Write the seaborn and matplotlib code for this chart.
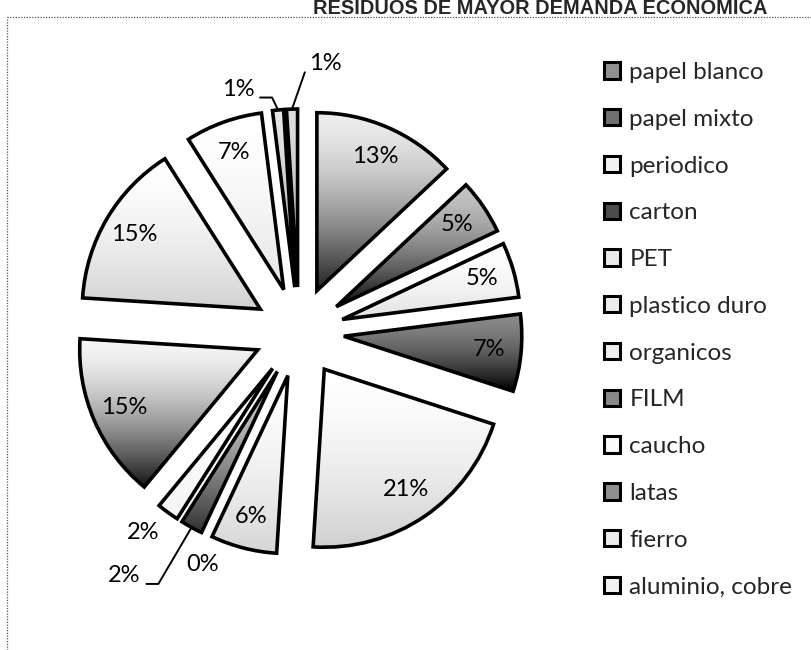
import numpy as np
import matplotlib
matplotlib.use("Agg")
import matplotlib.pyplot as plt
from matplotlib.patches import Patch
from matplotlib.lines import Line2D
from matplotlib.colors import to_rgb
import seaborn as sns

sns.set_theme(style="white")
plt.rcParams['font.family'] = ['Lato', 'DejaVu Sans']

# ---- data -------------------------------------------------------------
title = "RESIDUOS DE MAYOR DEMANDA ECONOMICA"
categories = ["papel blanco", "papel mixto", "periodico", "carton", "PET",
              "plastico duro", "organicos", "FILM", "caucho", "latas",
              "fierro", "aluminio, cobre"]
# shares in %, clockwise from 12 o'clock; the last two 1% slices have no legend entry
shares = [13, 5, 5, 7, 21, 6, 0, 2, 2, 15, 15, 7, 1, 1]

# vertical gradient per slice (top shade, bottom shade)
top_shades = ["#ececec", "#c4c4c4", "#ffffff", "#8a8a8a", "#ffffff", "#ffffff",
              "#ffffff", "#d0d0d0", "#ffffff", "#f6f6f6", "#ffffff", "#ffffff",
              "#e6e6e6", "#dcdcdc"]
bottom_shades = ["#202020", "#0a0a0a", "#e2e2e2", "#000000", "#cfcfcf", "#d6d6d6",
                 "#dadada", "#303030", "#f4f4f4", "#141414", "#d2d2d2", "#e4e4e4",
                 "#888888", "#888888"]

# ---- layout (pixel-like data units) -----------------------------------
W, H = 811, 650
center = (299, H - 332)
radius = 178
gap = 45
# labels placed outside their slice: index -> (distance from centre, angle in degrees)
outside = {6: (252, -112.4), 7: (300, -125.6), 8: (254, -127.8),
           12: (250, 104.1), 13: (270, 84.3)}
leaders = {7: "right", 12: "right", 13: "left"}

fig = plt.figure(figsize=(W / 100, H / 100), dpi=100)
ax = fig.add_axes([0, 0, 1, 1])

wedges, texts, autotexts = ax.pie(
    shares, explode=[gap] * len(shares), startangle=90, counterclock=False,
    radius=radius, center=center, autopct=lambda p: f"{p:.0f}%",
    pctdistance=0.82,
    wedgeprops=dict(edgecolor="black", linewidth=2.6, facecolor="none",
                    joinstyle="miter", zorder=2),
    textprops=dict(fontsize=17, color="black", zorder=4))

# gradient fill clipped to each wedge (darkening mostly towards the bottom)
n = 256
t = np.linspace(0, 1, n)[:, None] ** 1.6
for w, top, bot in zip(wedges, top_shades, bottom_shades):
    if abs(w.theta2 - w.theta1) < 1e-9:
        w.set_visible(False)
        continue
    v = w.get_path().vertices
    x0, y0 = v.min(axis=0)
    x1, y1 = v.max(axis=0)
    cols = (1 - t) * np.array(to_rgb(top)) + t * np.array(to_rgb(bot))
    im = ax.imshow(cols[:, None, :], extent=(x0, x1, y0, y1), origin="upper",
                   aspect="auto", interpolation="bilinear", zorder=1)
    im.set_clip_path(w)

# labels outside the pie, some with leader lines
for i, (dist, ang) in outside.items():
    a = np.deg2rad(ang)
    lx = center[0] + dist * np.cos(a)
    ly = center[1] + dist * np.sin(a)
    autotexts[i].set_position((lx, ly))
    if i in leaders:
        w = wedges[i]
        mid = np.deg2rad(0.5 * (w.theta1 + w.theta2))
        tx = w.center[0] + w.r * np.cos(mid)
        ty = w.center[1] + w.r * np.sin(mid)
        if leaders[i] == "right":
            xs = [lx + 22, lx + 34, tx]
            ys = [ly - 8, ly - 8, ty]
        else:
            xs = [lx - 21, tx]
            ys = [ly - 9, ty]
        ax.plot(xs, ys, color="black", lw=1.4, zorder=3)

ax.set_xlim(0, W)
ax.set_ylim(0, H)
ax.set_aspect("equal")
ax.axis("off")

# legend
def mid_shade(a, b):
    return tuple(0.55 * np.array(to_rgb(a)) + 0.45 * np.array(to_rgb(b)))

handles = [Patch(facecolor=mid_shade(top_shades[i], bottom_shades[i]),
                 edgecolor="black", linewidth=2.2)
           for i in range(len(categories))]
fig.legend(handles, categories, loc="upper left",
           bbox_to_anchor=(604 / W, 1 - 62 / H), frameon=False, fontsize=17.5,
           handlelength=0.66, handleheight=0.66, handletextpad=0.38,
           labelspacing=1.06, borderpad=0, borderaxespad=0)

# title
fig.text(540 / W, 1 - 14 / H, title, ha="center", va="baseline",
         fontsize=14.4, fontweight="bold", family=["Liberation Sans", "DejaVu Sans"])

# dotted outline of the chart area
fig.add_artist(Line2D([7 / W, 7 / W], [0, 1 - 17 / H], transform=fig.transFigure,
                      ls=(0, (1, 1.2)), lw=0.9, color="#555555"))
fig.add_artist(Line2D([7 / W, 1], [1 - 17 / H, 1 - 17 / H], transform=fig.transFigure,
                      ls=(0, (1, 1.2)), lw=0.9, color="#555555"))

fig.savefig("out.png", dpi=100, facecolor="white")
